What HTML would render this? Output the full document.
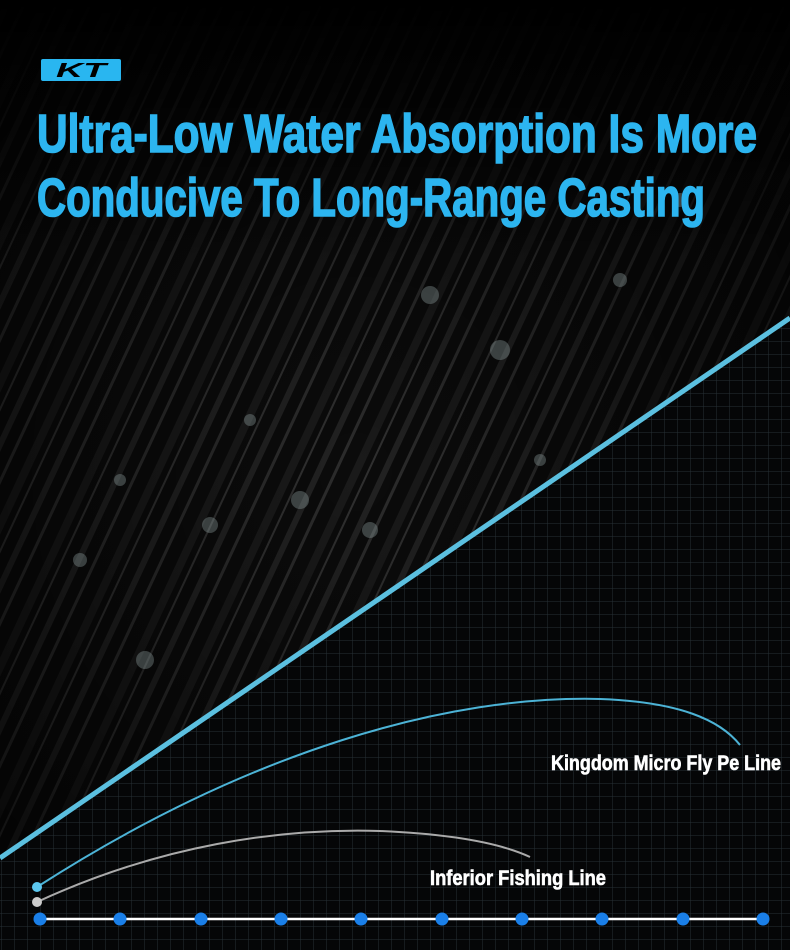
<!DOCTYPE html>
<html><head><meta charset="utf-8"><style>
html,body{margin:0;padding:0;background:#000;}
svg{display:block}
</style></head><body>
<svg width="790" height="950" viewBox="0 0 790 950" xmlns="http://www.w3.org/2000/svg">
<defs>
<pattern id="grid" width="13" height="13" patternUnits="userSpaceOnUse" x="2" y="4">
<path d="M13 0V13H0" fill="none" stroke="#263036" stroke-width="1"/>
</pattern>
<pattern id="rain" width="60" height="60" patternUnits="userSpaceOnUse" patternTransform="rotate(25)">
<rect width="60" height="60" fill="#0b0b0b"/>
<rect x="5" width="6" height="60" fill="#222"/>
<rect x="22" width="3" height="60" fill="#2c2c2c"/>
<rect x="38" width="8" height="60" fill="#1a1a1a"/>
<rect x="52" width="2" height="60" fill="#303030"/>
</pattern>
<linearGradient id="top" x1="0" y1="0" x2="0" y2="1">
<stop offset="0" stop-color="#000" stop-opacity="1"/>
<stop offset="1" stop-color="#000" stop-opacity="0"/>
</linearGradient>
<radialGradient id="fade" cx="0.45" cy="0.55" r="0.6">
<stop offset="0" stop-color="#000" stop-opacity="0"/>
<stop offset="1" stop-color="#000" stop-opacity="0.6"/>
</radialGradient>
</defs>
<rect width="790" height="950" fill="#050607"/>
<rect width="790" height="950" fill="url(#grid)"/>
<polygon points="0,0 790,0 790,318 0,858" fill="url(#rain)"/>
<polygon points="0,0 790,0 790,318 0,858" fill="url(#fade)"/>
<rect x="0" y="0" width="790" height="260" fill="url(#top)"/>
<g fill="#9aa" opacity="0.35">
<circle cx="500" cy="350" r="10"/><circle cx="430" cy="295" r="9"/><circle cx="300" cy="500" r="9"/>
<circle cx="210" cy="525" r="8"/><circle cx="145" cy="660" r="9"/><circle cx="370" cy="530" r="8"/>
<circle cx="620" cy="280" r="7"/><circle cx="80" cy="560" r="7"/><circle cx="680" cy="200" r="7"/>
<circle cx="540" cy="460" r="6"/><circle cx="250" cy="420" r="6"/><circle cx="120" cy="480" r="6"/>
</g>
<line x1="0" y1="858" x2="790" y2="318" stroke="#5bc0e0" stroke-width="5"/>
<rect x="41" y="59" width="80" height="22" rx="2" fill="#29b6f0"/>
<text x="81" y="77" text-anchor="middle" font-family="Liberation Sans, sans-serif" font-weight="bold" font-style="italic" font-size="20" fill="#000" textLength="50" lengthAdjust="spacingAndGlyphs">KT</text>
<g font-family="Liberation Sans Narrow, Liberation Sans, sans-serif" font-weight="bold" fill="#2cb5f0" stroke="#2cb5f0" stroke-width="1.6" font-size="54">
<text x="37" y="152" textLength="720" lengthAdjust="spacingAndGlyphs">Ultra-Low Water Absorption Is More</text>
<text x="37" y="216" textLength="668" lengthAdjust="spacingAndGlyphs">Conducive To Long-Range Casting</text>
</g>
<path d="M37 887 C250 750 450 695 600 699 C680 702 720 720 740 745" fill="none" stroke="#4cb3d6" stroke-width="2"/>
<path d="M37 902 C160 845 280 828 380 831 C450 834 500 843 530 857" fill="none" stroke="#aaaaaa" stroke-width="2"/>
<g font-family="Liberation Sans Narrow, Liberation Sans, sans-serif" font-weight="bold" fill="#fff" stroke="#fff" stroke-width="0.6" font-size="21">
<text x="551" y="770" textLength="230" lengthAdjust="spacingAndGlyphs">Kingdom Micro Fly Pe Line</text>
<text x="430" y="885" textLength="176" lengthAdjust="spacingAndGlyphs">Inferior Fishing Line</text>
</g>
<circle cx="37" cy="887" r="5" fill="#5cc8f0"/>
<circle cx="37" cy="902" r="5" fill="#cccccc"/>
<line x1="40" y1="919" x2="763" y2="919" stroke="#fff" stroke-width="2.5"/>
<g fill="#1a7fe8">
<circle cx="40" cy="919" r="6.5"/><circle cx="120" cy="919" r="6.5"/><circle cx="201" cy="919" r="6.5"/>
<circle cx="281" cy="919" r="6.5"/><circle cx="361" cy="919" r="6.5"/><circle cx="442" cy="919" r="6.5"/>
<circle cx="522" cy="919" r="6.5"/><circle cx="602" cy="919" r="6.5"/><circle cx="683" cy="919" r="6.5"/>
<circle cx="763" cy="919" r="6.5"/>
</g>
</svg>
</body></html>
